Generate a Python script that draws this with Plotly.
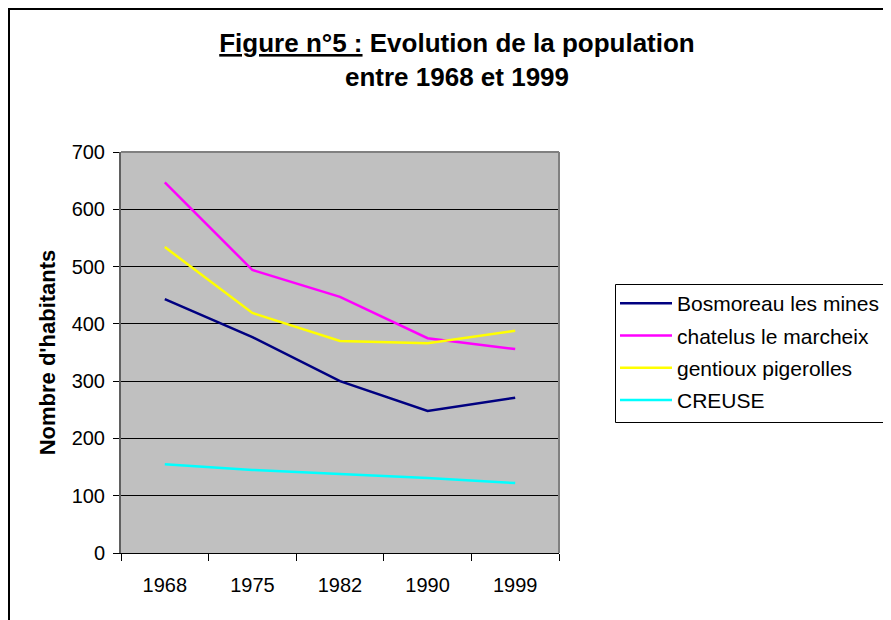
import plotly.graph_objects as go

years = ["1968", "1975", "1982", "1990", "1999"]
bosmoreau = [443, 377, 300, 248, 271]
chatelus = [647, 494, 447, 375, 356]
gentioux = [534, 419, 370, 366, 388]
creuse = [155, 145, 138, 131, 122]

series = [
    ("Bosmoreau les mines", bosmoreau, "#000080"),
    ("chatelus le marcheix", chatelus, "#FF00FF"),
    ("gentioux pigerolles", gentioux, "#FFFF00"),
    ("CREUSE", creuse, "#00FFFF"),
]

OFF = 8  # default page body margin
W, H = 891 - OFF, 620 - OFF
# plot area in screen pixels
SL, SR, ST, SB = 121, 559, 152, 553
L, R, T, B = SL - OFF, SR - OFF, ST - OFF, SB - OFF

fig = go.Figure()
for i, (name, vals, col) in enumerate(series):
    fig.add_trace(go.Scatter(x=years, y=vals, name=name, mode="lines",
                             line=dict(color=col, width=2.5),
                             legendgroup=f"g{i}"))

pw, ph = R - L, B - T
def px_x(sp):
    return (sp - OFF - L) / pw
def px_y(sp):
    return (B - (sp - OFF)) / ph

FONT = "Liberation Sans, Arial, sans-serif"

fig.update_layout(
    width=W, height=H,
    margin=dict(l=L, r=W - R, t=T, b=H - B, pad=0, autoexpand=False),
    paper_bgcolor="white",
    plot_bgcolor="#C0C0C0",
    font=dict(family=FONT, color="black", size=20),
    title=dict(
        text="<b><u>Figure n°5 :</u> Evolution de la population<br>entre 1968 et 1999</b>",
        x=(457 - OFF) / W, xanchor="center", y=1 - (52 - OFF) / H, yanchor="top",
        font=dict(size=26, family=FONT),
    ),
    xaxis=dict(
        type="category", range=[-0.5, 4.5], tickson="boundaries", ticks="outside",
        ticklen=7, tickcolor="black", showline=True, linecolor="#000000", linewidth=1,
        showgrid=False, tickfont=dict(size=20), ticklabelstandoff=14,
    ),
    yaxis=dict(
        range=[0, 700], dtick=100, ticks="outside", ticklen=6, tickcolor="black",
        showline=True, linecolor="#606060", linewidth=2,
        showgrid=True, gridcolor="black", gridwidth=1, zeroline=False,
        tickfont=dict(size=20), ticklabelstandoff=4,
        title=dict(text="<b>Nombre d'habitants</b>", font=dict(size=22), standoff=10),
    ),
    legend=dict(
        x=px_x(615), y=px_y(283), xanchor="left", yanchor="top",
        borderwidth=0, bgcolor="rgba(0,0,0,0)",
        font=dict(size=21), tracegroupgap=2, itemwidth=52,
    ),
    showlegend=True,
    shapes=[
        dict(type="line", xref="paper", yref="paper", x0=0, x1=1, y0=1, y1=1,
             line=dict(color="#808080", width=2)),
        dict(type="line", xref="paper", yref="paper", x0=1, x1=1, y0=0, y1=1,
             line=dict(color="#808080", width=2)),
        dict(type="rect", xref="paper", yref="paper",
             x0=px_x(9), x1=px_x(905), y0=px_y(640), y1=px_y(9),
             line=dict(color="black", width=2), layer="below"),
        # legend box
        dict(type="rect", xref="paper", yref="paper",
             x0=px_x(615.5), x1=px_x(905), y0=px_y(422.5), y1=px_y(284.5),
             line=dict(color="black", width=1), fillcolor="white", layer="above"),
    ],
)

fig.write_html("out.html")
